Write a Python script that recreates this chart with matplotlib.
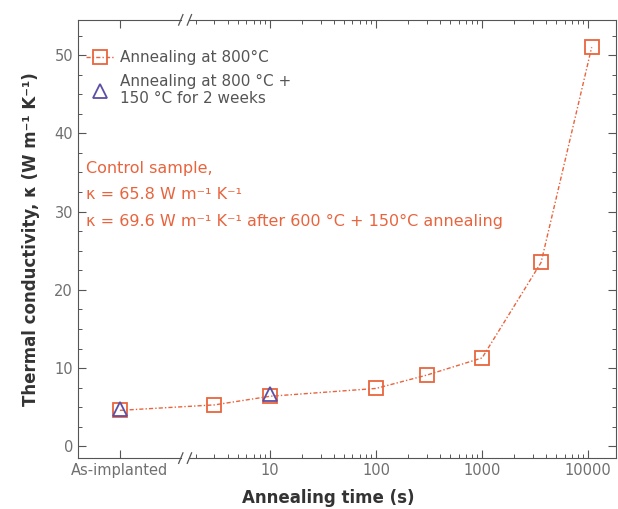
import matplotlib
matplotlib.use("Agg")
import matplotlib.pyplot as plt
import numpy as np

plt.rcParams["font.family"] = ["DejaVu Sans"]

# annealing at 800 C (time in s, 0 = as-implanted)
sq_time = [0, 3, 10, 100, 300, 1000, 3600, 10800]
sq_kappa = [4.6, 5.3, 6.4, 7.4, 9.1, 11.3, 23.5, 51.0]
# extra 150 C for 2 weeks
tri_time = [0, 10]
tri_kappa = [4.8, 6.7]

xtick_labels = ["As-implanted", "10", "100", "1000", "10000"]
xtick_times = [0, 10, 100, 1000, 10000]

ORANGE = "#e8643e"
PURPLE = "#5b4fa6"
GREY = "#555555"

AS_IMPL = -0.415   # where "as-implanted" sits on the decade axis
BREAK = 0.2


def pos(t):
    # log decades, with the zero-time sample parked left of the break
    return np.array([AS_IMPL if v == 0 else np.log10(v) for v in t])


fig = plt.figure(figsize=(6.18, 5.09), dpi=100)
ax = fig.add_axes([0.126, 0.100, 0.871, 0.861])

ax.plot(pos(sq_time), sq_kappa, color=ORANGE, lw=1.0,
        ls=(0, (3, 1.5, 1, 1.5)), marker="s", ms=9.5, mfc="none",
        mec=ORANGE, mew=1.3, label="Annealing at 800°C")
ax.plot(pos(tri_time), tri_kappa, ls="none", marker="^", ms=10.5, mfc="none",
        mec=PURPLE, mew=1.3, label="Annealing at 800 °C +\n150 °C for 2 weeks")

ax.set_xlim(-0.811, 4.264)
ax.set_ylim(-1.5, 54.5)

ax.set_xticks(pos(xtick_times))
ax.set_xticklabels(xtick_labels)
minor = [np.log10(k * 10 ** d) for d in range(0, 4) for k in range(2, 10)]
ax.set_xticks(minor, minor=True)
ax.set_yticks(range(0, 51, 10))
ax.set_yticks(np.arange(0, 54, 2.5), minor=True)
ax.tick_params(which="both", direction="in", top=True, right=True,
               colors=GREY, labelsize=10.5, labelcolor="#707070")
ax.tick_params(which="major", length=6, width=0.8)
ax.tick_params(which="minor", length=3, width=0.7)

for s in ax.spines.values():
    s.set_color(GREY)
    s.set_linewidth(0.8)
ax.spines["top"].set_visible(False)
ax.spines["bottom"].set_visible(False)

# broken top/bottom spines with // marks
bx = (BREAK - ax.get_xlim()[0]) / (ax.get_xlim()[1] - ax.get_xlim()[0])
gap = 0.008
for y in (0, 1):
    ax.plot([0, bx - gap], [y, y], transform=ax.transAxes, color=GREY,
            lw=0.8, clip_on=False)
    ax.plot([bx + gap, 1], [y, y], transform=ax.transAxes, color=GREY,
            lw=0.8, clip_on=False)
    for dx in (-gap, gap):
        ax.plot([bx + dx - 0.004, bx + dx + 0.004], [y - 0.012, y + 0.012],
                transform=ax.transAxes, color=GREY, lw=0.9, clip_on=False)

ax.set_xlabel("Annealing time (s)", fontsize=12, fontweight="bold",
              color="#333333", labelpad=6)
ax.xaxis.set_label_coords(0.465, -0.07)
ax.set_ylabel("Thermal conductivity, κ (W m⁻¹ K⁻¹)", fontsize=12,
              fontweight="bold", color="#333333", labelpad=10)

leg = ax.legend(loc="upper left", bbox_to_anchor=(-0.005, 0.955), frameon=False,
                fontsize=11, handlelength=1.9, handletextpad=0.35,
                borderaxespad=0.3, labelspacing=0.55, labelcolor="#555555")

ax.text(0.015, 0.678,
        "Control sample,\n"
        "κ = 65.8 W m⁻¹ K⁻¹\n"
        "κ = 69.6 W m⁻¹ K⁻¹ after 600 °C + 150°C annealing",
        transform=ax.transAxes, color=ORANGE, fontsize=11.5, va="top",
        linespacing=1.95)

fig.savefig("out.png", dpi=100)
